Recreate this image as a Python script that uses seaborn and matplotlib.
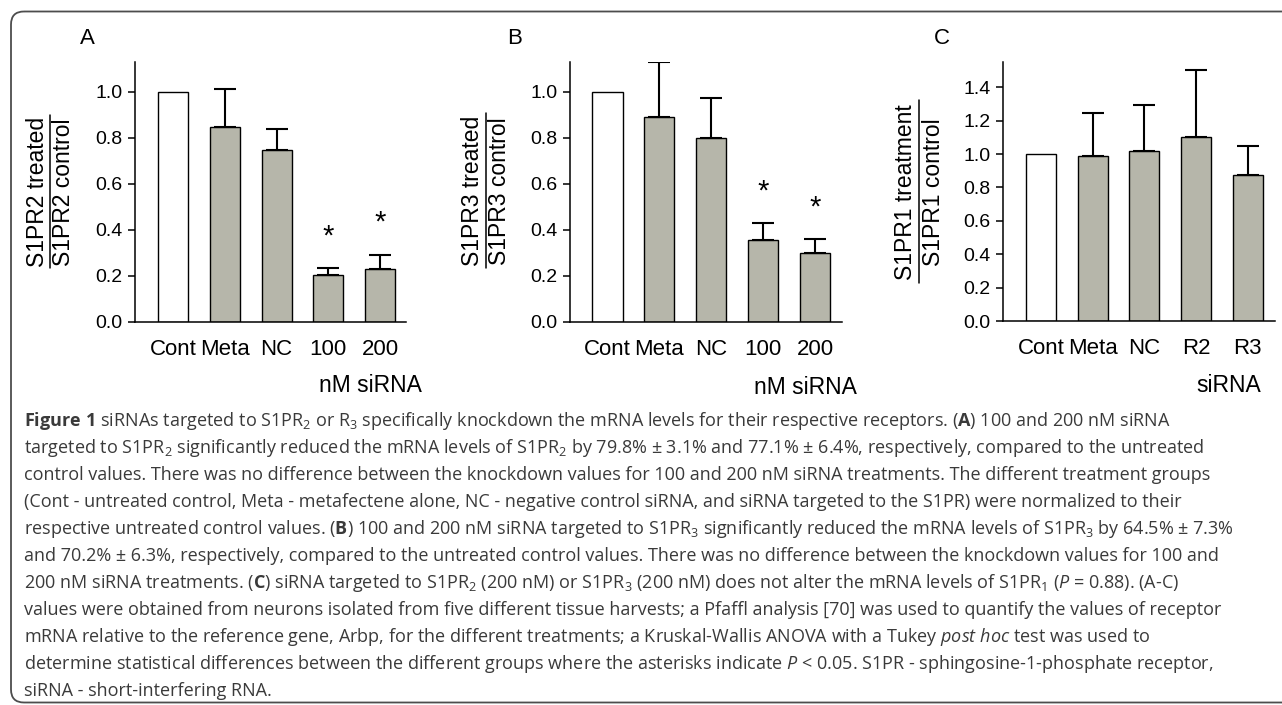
import numpy as np
import pandas as pd
import matplotlib
matplotlib.use("Agg")
import matplotlib.pyplot as plt
import seaborn as sns
from matplotlib.patches import FancyBboxPatch

# ---------------- data ----------------
groups_ab = ["Cont", "Meta", "NC", "100", "200"]
groups_c = ["Cont", "Meta", "NC", "R2", "R3"]

s1pr2_mean = [1.0, 0.848, 0.746, 0.203, 0.229]
s1pr2_err = [0.0, 0.164, 0.093, 0.032, 0.064]
s1pr2_sig = [False, False, False, True, True]

s1pr3_mean = [1.0, 0.890, 0.800, 0.357, 0.299]
s1pr3_err = [0.0, 0.239, 0.173, 0.072, 0.063]
s1pr3_sig = [False, False, False, True, True]

s1pr1_mean = [1.0, 0.988, 1.018, 1.102, 0.872]
s1pr1_err = [0.0, 0.256, 0.275, 0.401, 0.176]
s1pr1_sig = [False, False, False, False, False]

yticks_ab = [0.0, 0.2, 0.4, 0.6, 0.8, 1.0]
yticks_c = [0.0, 0.2, 0.4, 0.6, 0.8, 1.0, 1.2, 1.4]

caption_lines = [
    r"$\mathbf{Figure\ 1}$ siRNAs targeted to S1PR$_2$ or R$_3$ specifically knockdown the mRNA levels for their respective receptors. ($\mathbf{A}$) 100 and 200 nM siRNA",
    r"targeted to S1PR$_2$ significantly reduced the mRNA levels of S1PR$_2$ by 79.8% ± 3.1% and 77.1% ± 6.4%, respectively, compared to the untreated",
    r"control values. There was no difference between the knockdown values for 100 and 200 nM siRNA treatments. The different treatment groups",
    r"(Cont - untreated control, Meta - metafectene alone, NC - negative control siRNA, and siRNA targeted to the S1PR) were normalized to their",
    r"respective untreated control values. ($\mathbf{B}$) 100 and 200 nM siRNA targeted to S1PR$_3$ significantly reduced the mRNA levels of S1PR$_3$ by 64.5% ± 7.3%",
    r"and 70.2% ± 6.3%, respectively, compared to the untreated control values. There was no difference between the knockdown values for 100 and",
    r"200 nM siRNA treatments. ($\mathbf{C}$) siRNA targeted to S1PR$_2$ (200 nM) or S1PR$_3$ (200 nM) does not alter the mRNA levels of S1PR$_1$ ($\mathit{P}$ = 0.88). (A-C)",
    r"values were obtained from neurons isolated from five different tissue harvests; a Pfaffl analysis [70] was used to quantify the values of receptor",
    r"mRNA relative to the reference gene, Arbp, for the different treatments; a Kruskal-Wallis ANOVA with a Tukey $\mathit{post\ hoc}$ test was used to",
    r"determine statistical differences between the different groups where the asterisks indicate $\mathit{P}$ < 0.05. S1PR - sphingosine-1-phosphate receptor,",
    r"siRNA - short-interfering RNA.",
]

# ---------------- style ----------------
sns.set_theme(style="ticks")
plt.rcParams["font.family"] = ["Liberation Sans", "DejaVu Sans"]
plt.rcParams["mathtext.fontset"] = "custom"
plt.rcParams["mathtext.rm"] = "Open Sans"
plt.rcParams["mathtext.it"] = "Open Sans:italic"
plt.rcParams["mathtext.bf"] = "Open Sans:bold"

W, H = 1282, 705
fig = plt.figure(figsize=(W / 100, H / 100), dpi=100)
fig.patch.set_facecolor("white")

# overlay in pixel coordinates
ov = fig.add_axes([0, 0, 1, 1], zorder=0)
ov.set_xlim(0, W)
ov.set_ylim(H, 0)
ov.axis("off")

frame = FancyBboxPatch((11, 11.5), 1400, 691, boxstyle="round,pad=0,rounding_size=13",
                       fill=False, edgecolor="#4d4d4d", linewidth=1.3)
ov.add_patch(frame)

BAR_GREY = "#b6b6aa"


def panel(box, groups, mean, err, sig, ylim, yticks, xlim):
    x0, x1, ytop, ybot = box
    ax = fig.add_axes([x0 / W, 1 - ybot / H, (x1 - x0) / W, (ybot - ytop) / H], zorder=2)
    ax.patch.set_alpha(0)
    df = pd.DataFrame({"group": groups, "value": mean})
    colors = ["white"] + [BAR_GREY] * (len(groups) - 1)
    sns.barplot(data=df, x="group", y="value", hue="group", palette=colors,
                width=0.58, edgecolor="black", linewidth=1.0, errorbar=None,
                legend=False, saturation=1, ax=ax)
    xs = np.arange(1, len(groups))
    m = np.array(mean[1:])
    e = np.array(err[1:])
    ax.errorbar(xs, m, yerr=[np.zeros_like(e), e], fmt="none", ecolor="black",
                elinewidth=1.5, capsize=8, capthick=1.5, zorder=3)
    for i, s in enumerate(sig):
        if s:
            ax.annotate("*", xy=(i, mean[i] + err[i]), xytext=(0, 17),
                        textcoords="offset points", ha="center", va="baseline",
                        fontsize=21, color="black")
    ax.set_xlim(*xlim)
    ax.set_ylim(*ylim)
    ax.set_yticks(yticks)
    ax.set_yticklabels([f"{t:.1f}" for t in yticks])
    ax.set_xlabel("")
    ax.set_ylabel("")
    sns.despine(ax=ax)
    for sp in ["left", "bottom"]:
        ax.spines[sp].set_linewidth(1.1)
        ax.spines[sp].set_color("black")
    ax.tick_params(axis="y", direction="out", length=5, width=1.1, labelsize=14,
                   pad=4, colors="black")
    ax.tick_params(axis="x", length=0, labelsize=16, pad=12, colors="black")
    return ax


axA = panel((135, 406, 62, 322), groups_ab, s1pr2_mean, s1pr2_err, s1pr2_sig,
            (0, 1.13), yticks_ab, (-0.734, 4.50))
axB = panel((570, 842, 62, 322), groups_ab, s1pr3_mean, s1pr3_err, s1pr3_sig,
            (0, 1.13), yticks_ab, (-0.723, 4.52))
axC = panel((1003, 1275, 61.7, 321), groups_c, s1pr1_mean, s1pr1_err, s1pr1_sig,
            (0, 1.553), yticks_c, (-0.736, 4.53))

# panel letters
for lab, x in [("A", 87), ("B", 515), ("C", 942)]:
    ov.text(x, 39, lab, fontsize=16, ha="center", va="center", color="black")

# y-label fractions
for num, den, xn, xl, xd, yc, y0, y1 in [
    ("S1PR2 treated", "S1PR2 control", 38, 49.5, 63, 192, 115, 268),
    ("S1PR3 treated", "S1PR3 control", 472.5, 486, 500, 191, 113, 268),
    ("S1PR1 treatment", "S1PR1 control", 906, 918.5, 933, 192, 100, 283),
]:
    ov.text(xn, yc, num, rotation=90, fontsize=16.5, ha="center", va="center", color="black")
    ov.text(xd, yc, den, rotation=90, fontsize=16.5, ha="center", va="center", color="black")
    ov.plot([xl, xl], [y0, y1], color="black", lw=1.1)

# x-axis group labels
ov.text(370, 385, "nM siRNA", fontsize=16.5, ha="center", va="center", color="black")
ov.text(805, 388, "nM siRNA", fontsize=16.5, ha="center", va="center", color="black")
ov.text(1229, 385, "siRNA", fontsize=16.5, ha="center", va="center", color="black")

# caption
for k, line in enumerate(caption_lines):
    ov.text(24, 421 + 27 * k, line, fontsize=12.95, family=["Open Sans", "DejaVu Sans"],
            ha="left", va="center", color="#3a3a3a")

fig.savefig("out.png", dpi=100, facecolor="white")
